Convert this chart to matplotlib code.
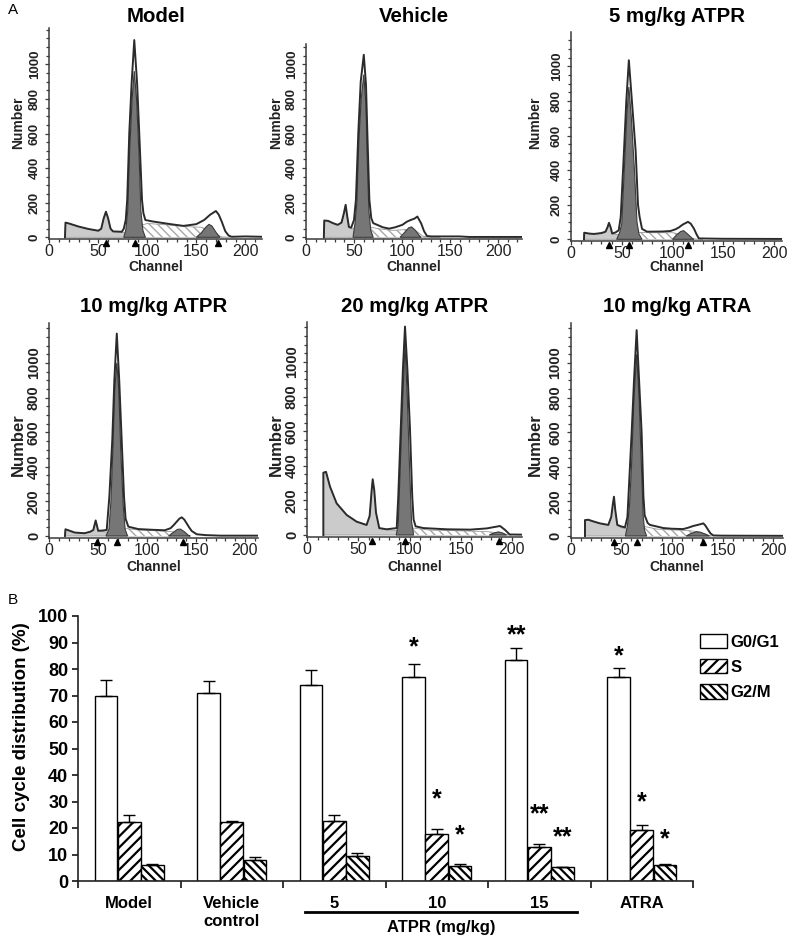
import numpy as np
import matplotlib.pyplot as plt
import matplotlib.transforms as mtransforms
from matplotlib.patches import Patch

plt.rcParams['font.family'] = ['Liberation Sans', 'DejaVu Sans']
plt.rcParams['hatch.linewidth'] = 1.0

W, H = 800, 940

#%% Panel A data: flow cytometry histograms, points as (channel, count)
titles = ["Model", "Vehicle", "5 mg/kg ATPR", "10 mg/kg ATPR", "20 mg/kg ATPR", "10 mg/kg ATRA"]

model_line = [(16, 0), (16.5, 85), (20, 80), (30, 62), (40, 48), (50, 38), (53, 50), (55.5, 110), (57.8, 148),
              (60, 110), (62.5, 50), (65, 34), (74, 32), (76, 50), (78, 100), (79.5, 216), (81.6, 600),
              (84, 890), (86.7, 1140), (89.6, 890), (91.8, 600), (94.6, 216), (96, 140), (98, 100), (105, 92),
              (113, 85), (125, 75), (137, 66), (150, 76), (158, 100), (164, 130), (170, 152), (173, 130),
              (176, 90), (179.6, 35), (183, 10), (186, 3), (200, 5), (217, 3)]
model_debris = [(16, 0), (16.5, 85), (20, 80), (30, 62), (40, 48), (50, 38), (53, 50), (55.5, 110), (57.8, 148),
                (60, 110), (62.5, 50), (65, 34), (74, 30), (85, 24), (100, 18), (130, 10), (160, 6), (185, 0)]
model_g1 = [(76, 0), (78, 40), (80, 150), (82, 500), (84.5, 800), (86.7, 960), (89, 800), (91.4, 500), (93.5, 150),
            (95.5, 40), (98, 0)]
model_g2 = [(150, 0), (155, 25), (160, 60), (163, 75), (166, 65), (170, 30), (174, 0)]
model_s = [(90, 0), (94, 70), (100, 80), (120, 72), (140, 62), (155, 58), (165, 40), (172, 15), (176, 0)]
model_marks = [57.8, 87, 172]

vehicle_line = [(18.6, 0), (19, 97), (23, 95), (28, 82), (33, 72), (37, 85), (39.5, 140), (41.3, 188), (43, 120),
                (44.7, 60), (47, 55), (50, 100), (52, 217), (54.5, 605), (57, 900), (60.2, 1055), (62.5, 880),
                (63.9, 605), (66, 217), (68, 110), (70, 82), (75, 70), (80, 58), (86.6, 50), (93, 58),
                (100.4, 72), (105, 90), (109, 100), (113, 108), (116, 120), (118, 100), (120, 80), (123, 35),
                (126, 8), (130, 5), (160, 5), (170, 2), (225, 2)]
vehicle_debris = [(18.6, 0), (19, 97), (23, 95), (28, 82), (33, 72), (37, 85), (39.5, 140), (41.3, 188), (43, 120),
                  (44.7, 60), (47, 55), (50, 50), (55, 40), (65, 30), (80, 20), (100, 12), (125, 5), (140, 0)]
vehicle_g1 = [(49, 0), (51, 80), (53, 200), (55, 550), (57.5, 800), (60.2, 940), (62.5, 760), (63.5, 500),
              (65.5, 150), (67.5, 40), (70, 0)]
vehicle_g2 = [(98, 0), (103, 30), (107, 55), (110, 60), (114, 40), (118, 10), (120, 0)]
vehicle_s = [(63, 0), (66, 60), (75, 50), (90, 40), (105, 45), (115, 35), (120, 15), (123, 0)]
vehicle_marks = []

atpr5_line = [(12.8, 0), (13, 38), (18, 33), (22.7, 31), (30, 36), (34, 44), (36, 70), (37.4, 95), (39, 70),
              (40.6, 33), (44, 40), (47, 52), (49, 129), (52.2, 510), (54.5, 800), (57, 1035), (60, 800),
              (63.7, 510), (66, 200), (67.6, 129), (70, 60), (75, 44), (90, 45), (98, 48), (103, 58),
              (106.4, 69), (110, 85), (115.3, 101), (118, 90), (121, 63), (124, 25), (126, 5), (150, 3), (208, 2)]
atpr5_debris = [(12.8, 0), (13, 38), (18, 33), (22.7, 31), (30, 36), (34, 44), (36, 70), (37.4, 95), (39, 70),
                (40.6, 33), (45, 28), (55, 22), (80, 12), (110, 5), (130, 0)]
atpr5_g1 = [(45, 0), (48, 40), (50, 90), (52.5, 400), (55, 720), (57, 880), (59.5, 700), (62.5, 400), (65, 100),
            (67, 30), (70, 0)]
atpr5_g2 = [(100, 0), (104, 25), (108, 45), (111, 50), (115, 30), (119, 8), (121, 0)]
atpr5_s = [(62, 0), (65, 40), (80, 38), (100, 38), (108, 30), (116, 15), (121, 0)]
atpr5_marks = [37.4, 57, 115]

atpr10_line = [(16, 0), (16.5, 39), (20, 32), (26, 20), (36, 16), (42, 25), (45, 35), (47.4, 90), (50, 30),
               (55, 32), (58.7, 35), (61.4, 227), (64.4, 555), (66.5, 900), (69, 1170), (71.5, 900), (74, 555),
               (76.4, 227), (78, 100), (80.8, 54), (91, 40), (105, 36), (118, 33), (124, 45), (127, 62),
               (130, 81), (133, 100), (135.4, 108), (138, 95), (140, 77), (143, 50), (145.6, 29), (150.7, 10),
               (160, 5), (175, 2), (213, 2)]
atpr10_debris = [(16, 0), (16.5, 39), (20, 32), (26, 20), (36, 16), (42, 25), (45, 35), (47.4, 90), (50, 30),
                 (55, 25), (65, 20), (90, 10), (120, 5), (145, 0)]
atpr10_g1 = [(58, 0), (61, 40), (63, 200), (65, 500), (67, 850), (69, 1000), (71, 850), (73, 500), (75.5, 180),
             (77.5, 40), (80, 0)]
atpr10_g2 = [(122, 0), (127, 22), (131, 38), (134, 40), (138, 25), (142, 5), (144, 0)]
atpr10_s = [(74, 0), (77, 45), (90, 35), (110, 30), (125, 25), (135, 15), (142, 0)]
atpr10_marks = [48.4, 68.9, 136.4]

atpr20_line = [(15.7, 0), (15.7, 360), (18.3, 365), (22.2, 280), (28.7, 183), (38.5, 116), (48.3, 77), (58, 58),
               (61, 110), (63, 260), (64, 322), (65.5, 260), (67.2, 130), (70.4, 40), (77.7, 33), (87.5, 40),
               (89, 221), (91.4, 607), (93.5, 950), (95.6, 1205), (98, 950), (100.5, 607), (102.7, 221),
               (104, 90), (106, 50), (113.6, 40), (136.4, 33), (159.2, 31), (175.5, 38), (182, 45),
               (188.6, 52), (193.4, 30), (198, 3), (210, 2)]
atpr20_debris = [(15.7, 0), (15.7, 360), (18.3, 365), (22.2, 280), (28.7, 183), (38.5, 116), (48.3, 77), (58, 58),
                 (61, 110), (63, 260), (64, 322), (65.5, 260), (67.2, 130), (70.4, 40), (77.7, 30), (90, 25),
                 (110, 18), (140, 12), (170, 6), (200, 0)]
atpr20_g1 = [(87, 0), (89, 60), (91, 400), (93.5, 800), (95.6, 1100), (97.8, 800), (100, 400), (102, 80), (104, 0)]
atpr20_g2 = [(178, 0), (183, 12), (187, 18), (191, 12), (195, 0)]
atpr20_s = [(101, 0), (104, 40), (120, 28), (150, 24), (175, 20), (190, 10), (196, 0)]
atpr20_marks = [63, 95.6, 188]

atra_line = [(14.1, 0), (14.1, 92), (17.4, 94), (22, 85), (28.9, 73), (37.1, 64), (40, 110), (41.5, 180),
             (42.7, 227), (44, 150), (46, 64), (50, 55), (53.6, 50), (56, 110), (57, 227), (60.2, 600),
             (62.5, 900), (65.1, 1190), (67.5, 900), (70, 600), (71.8, 227), (73, 120), (76, 75), (78.3, 64),
             (85, 55), (91.4, 46), (100, 42), (111, 40), (116, 48), (121, 58), (126, 65), (131, 73), (133, 60),
             (135.6, 36), (138, 15), (140.8, 3), (150, 2), (210, 1)]
atra_debris = [(14.1, 0), (14.1, 92), (17.4, 94), (22, 85), (28.9, 73), (37.1, 64), (40, 110), (41.5, 180),
               (42.7, 227), (44, 150), (46, 64), (50, 48), (60, 35), (80, 20), (110, 8), (140, 0)]
atra_g1 = [(54, 0), (56, 60), (58, 170), (60, 400), (62.5, 800), (65.1, 1050), (67.5, 800), (69.5, 450),
           (71.5, 120), (73, 30), (75, 0)]
atra_g2 = [(114, 0), (119, 15), (124, 25), (128, 22), (133, 10), (137, 0)]
atra_s = [(70, 0), (73, 55), (85, 40), (100, 35), (115, 32), (125, 25), (133, 12), (138, 0)]
atra_marks = [42.7, 65.1, 131]

#%% Panel B data
groups = ["Model", "Vehicle\ncontrol", "5", "10", "15", "ATRA"]
phases = ["G0/G1", "S", "G2/M"]
g0g1 = [70.0, 71.0, 74.0, 76.8, 83.4, 76.8]
g0g1_err = [6.0, 4.5, 5.5, 4.9, 4.4, 3.4]
s_phase = [22.1, 22.3, 22.7, 17.9, 12.9, 19.2]
s_err = [2.8, 0.4, 2.3, 1.9, 1.0, 1.9]
g2m = [6.0, 7.9, 9.5, 5.7, 5.1, 6.0]
g2m_err = [0.5, 1.2, 1.1, 0.9, 0.3, 0.3]
g0g1_sig = ["", "", "", "*", "**", "*"]
s_sig = ["", "", "", "*", "**", "*"]
g2m_sig = ["", "", "", "*", "**", "*"]
g0g1_sig_y = [0, 0, 0, 91.0, 95.5, 87.5]
s_sig_y = [0, 0, 0, 33.6, 28.0, 32.5]
g2m_sig_y = [0, 0, 0, 20.0, 19.2, 18.5]

#%% layout (pixels): x of channel 0, px per channel, x max, y of count 0, y max
PX_PER_COUNT = 0.173
layout = [
    (49.3, 0.98, 217, 237.3, 1210),
    (306.0, 0.96, 225, 237.3, 1120),
    (571.0, 1.015, 208, 239.3, 1200),
    (49.3, 0.978, 213, 536.0, 1230),
    (307.3, 1.022, 210, 535.0, 1230),
    (570.7, 1.013, 210, 536.0, 1230),
]
title_y = [17, 17, 17, 307, 307, 307]
number_x = [18, 276, 535, 18, 276, 535]
number_y = [123, 123, 123, 445, 445, 445]
channel_y = [267, 267, 267, 567, 567, 567]

hists = [
    (model_line, model_debris, model_g1, model_g2, model_s, model_marks),
    (vehicle_line, vehicle_debris, vehicle_g1, vehicle_g2, vehicle_s, vehicle_marks),
    (atpr5_line, atpr5_debris, atpr5_g1, atpr5_g2, atpr5_s, atpr5_marks),
    (atpr10_line, atpr10_debris, atpr10_g1, atpr10_g2, atpr10_s, atpr10_marks),
    (atpr20_line, atpr20_debris, atpr20_g1, atpr20_g2, atpr20_s, atpr20_marks),
    (atra_line, atra_debris, atra_g1, atra_g2, atra_s, atra_marks),
]


def px_rect(left, top, right, bottom):
    return [left / W, 1 - bottom / H, (right - left) / W, (bottom - top) / H]


fig = plt.figure(figsize=(W / 100, H / 100), dpi=100)
axcol = '#3a3a3a'

for k, (line, debris, g1, g2, sph, marks) in enumerate(hists):
    x0, ppc, xmax, y0, ymax = layout[k]
    right = x0 + xmax * ppc
    top = y0 - ymax * PX_PER_COUNT
    bottom = y0 + 10 * PX_PER_COUNT
    ax = fig.add_axes(px_rect(x0, top, right, bottom))
    big = k >= 3

    d = np.array(debris)
    ax.fill(d[:, 0], d[:, 1], facecolor='#cbcbcb', edgecolor='#9a9a9a', lw=0.6, zorder=1)
    s = np.array(sph)
    ax.fill(s[:, 0], s[:, 1], facecolor='white', edgecolor='#a8a8a8', hatch='\\\\\\\\', lw=0, zorder=2)
    ax.plot(s[:, 0], s[:, 1], color='#9a9a9a', lw=0.6, zorder=2)
    for comp in (g1, g2):
        c = np.array(comp)
        ax.fill(c[:, 0], c[:, 1], facecolor='#767676', edgecolor='#3c3c3c', lw=0.8, zorder=3)
    ln = np.array(line)
    ax.plot(ln[:, 0], ln[:, 1], color='#2b2b2b', lw=1.4, zorder=4)
    if marks:
        ax.plot(marks, [-32] * len(marks), linestyle='none', marker='^', ms=5,
                color='black', clip_on=False, zorder=5)

    ax.set_xlim(0, xmax)
    ax.set_ylim(-10, ymax)
    for side in ('top', 'right'):
        ax.spines[side].set_visible(False)
    for side in ('left', 'bottom'):
        ax.spines[side].set_color(axcol)
        ax.spines[side].set_linewidth(1.1)
    ax.set_xticks([0, 50, 100, 150, 200])
    ax.set_xticks(np.arange(0, xmax, 10), minor=True)
    ax.set_yticks(np.arange(0, 1001, 200))
    ax.set_yticks(np.arange(0, ymax, 50), minor=True)
    ax.tick_params(axis='both', which='both', color=axcol, width=0.9, direction='out')
    ax.tick_params(axis='both', which='major', length=3)
    ax.tick_params(axis='both', which='minor', length=2)
    ax.tick_params(axis='x', labelsize=11.5, pad=0.5, labelcolor='#222222')
    ax.tick_params(axis='y', labelsize=10.5 if big else 9.5, labelrotation=90, pad=3, labelcolor='#222222')
    for t in ax.get_yticklabels():
        t.set_fontweight('bold')
        t.set_va('center')

    cx = (x0 + right) / 2
    fig.text(cx / W, 1 - title_y[k] / H, titles[k], ha='center', va='center',
             fontsize=14.7, fontweight='bold')
    fig.text(number_x[k] / W, 1 - number_y[k] / H, "Number", rotation=90, ha='center', va='center',
             fontsize=12 if big else 10, fontweight='bold', color='#222222')
    fig.text(cx / W, 1 - channel_y[k] / H, "Channel", ha='center', va='center',
             fontsize=10, fontweight='bold', color='#222222')

fig.text(8 / W, 1 - 10 / H, "A", ha='left', va='center', fontsize=11)
fig.text(8 / W, 1 - 600 / H, "B", ha='left', va='center', fontsize=11)

#%% Panel B: grouped bars
axb = fig.add_axes(px_rect(78, 616, 693, 881))
centers = np.arange(len(groups)) + 0.5
bw = 0.22
plt.rcParams['hatch.linewidth'] = 1.6
series = [(g0g1, g0g1_err, '', g0g1_sig, g0g1_sig_y),
          (s_phase, s_err, '///', s_sig, s_sig_y),
          (g2m, g2m_err, '\\\\\\\\', g2m_sig, g2m_sig_y)]
handles = []
for j, (vals, errs, hatch, sig, sig_y) in enumerate(series):
    xs = centers + (j - 1) * 0.225
    axb.bar(xs, vals, width=bw, facecolor='white', edgecolor='black', hatch=hatch, lw=1.0, zorder=2)
    axb.errorbar(xs, vals, yerr=[np.zeros(len(errs)), errs], fmt='none', ecolor='black',
                 elinewidth=1.0, capsize=4, capthick=1.0, zorder=3)
    for xx, lab, yy in zip(xs, sig, sig_y):
        if lab:
            axb.annotate(lab, (xx, yy), xytext=(0, -10.4), textcoords='offset points',
                         ha='center', va='baseline', fontsize=18, fontweight='bold')
    handles.append(Patch(facecolor='white', edgecolor='black', hatch=hatch, lw=1.0, label=phases[j]))

axb.set_xlim(0, len(groups))
axb.set_ylim(0, 100)
for side in ('top', 'right'):
    axb.spines[side].set_visible(False)
for side in ('left', 'bottom'):
    axb.spines[side].set_linewidth(1.2)
    axb.spines[side].set_color('#222222')
axb.set_yticks(np.arange(0, 101, 10))
axb.tick_params(axis='y', length=4, width=1.1, labelsize=13, pad=3)
for t in axb.get_yticklabels():
    t.set_fontweight('bold')
axb.set_xticks(centers)
axb.set_xticklabels(groups, fontsize=12, fontweight='bold', linespacing=1.2)
axb.set_xticks(np.arange(0, len(groups) + 1), minor=True)
axb.tick_params(axis='x', which='major', length=0, pad=11)
axb.tick_params(axis='x', which='minor', length=5, width=1.1, direction='out')

trans = mtransforms.blended_transform_factory(axb.transData, axb.transAxes)
axb.plot([2.21, 4.87], [-0.117, -0.117], transform=trans, color='black', lw=2, clip_on=False)
axb.text(3.54, -0.175, "ATPR (mg/kg)", transform=trans, ha='center', va='center',
         fontsize=12, fontweight='bold')

fig.text(22 / W, 1 - 737 / H, "Cell cycle distribution (%)", rotation=90, ha='center', va='center',
         fontsize=13.5, fontweight='bold')

fig.legend(handles=handles, loc='upper left', bbox_to_anchor=(700 / W, 1 - 634 / H), frameon=False,
           prop={'size': 12, 'weight': 'bold'}, handlelength=1.6, handleheight=0.95,
           handletextpad=0.25, labelspacing=0.55, borderpad=0, borderaxespad=0)

fig.savefig("out.png", dpi=100)
